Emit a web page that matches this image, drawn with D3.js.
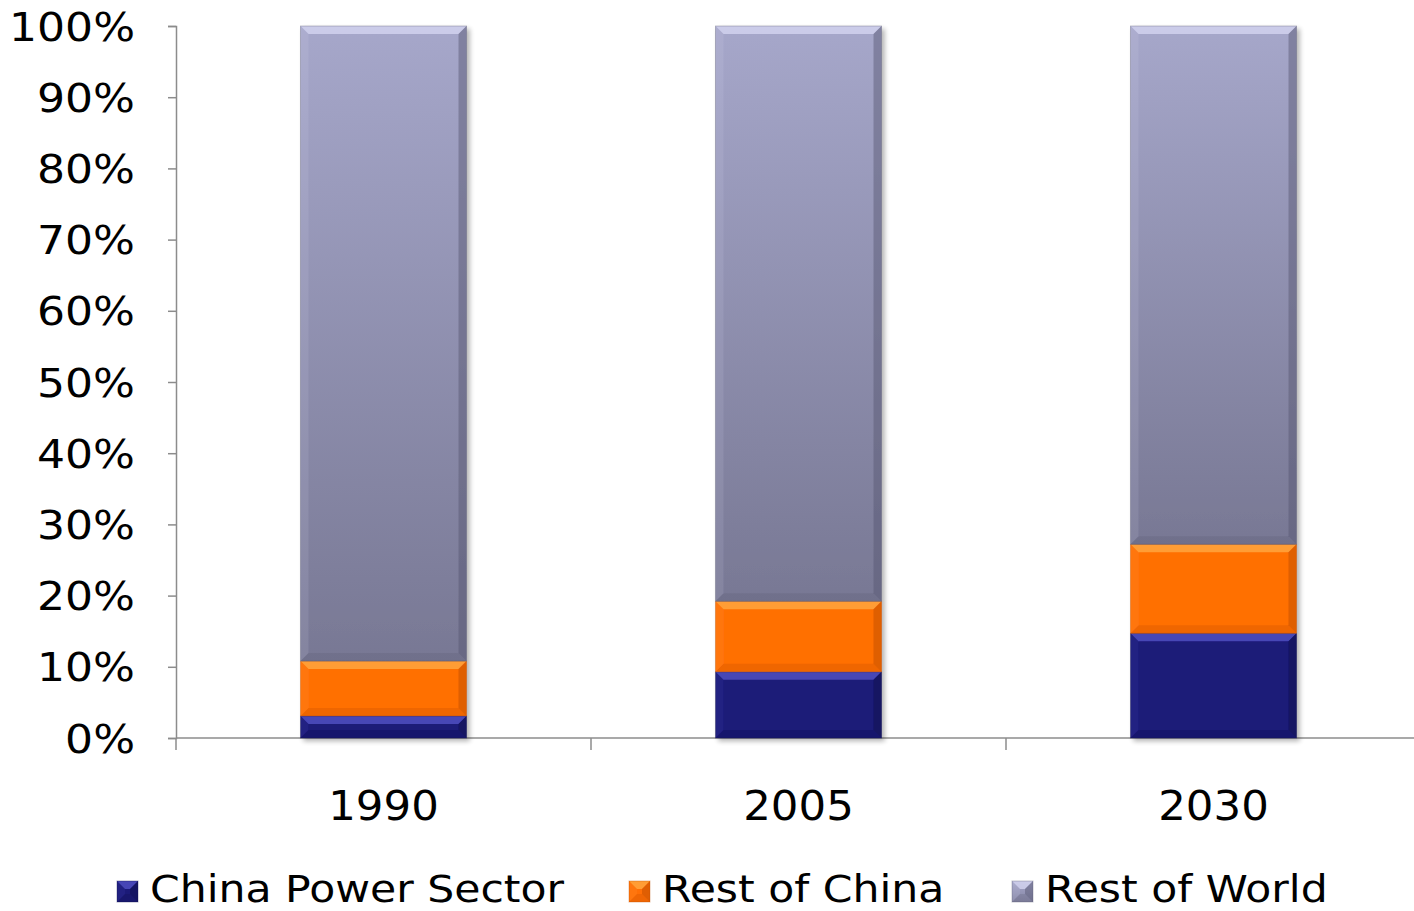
<!DOCTYPE html>
<html>
<head>
<meta charset="utf-8">
<script src="https://cdn.jsdelivr.net/npm/d3@7"></script>
<style>
  html, body { margin: 0; padding: 0; background: #fff; }
  svg { display: block; }
  text { font-family: "DejaVu Sans", Verdana, sans-serif; fill: #000; }
</style>
</head>
<body>
<svg id="chart" width="1414" height="911"></svg>
<script>
// Share of emissions by source
const years = ["1990", "2005", "2030"];
const seriesNames = ["China Power Sector", "Rest of China", "Rest of World"];
const chinaPower = [3.1, 9.3, 14.7];
const restOfChina = [7.7, 9.9, 12.5];
const restOfWorld = [89.2, 80.8, 72.8];
const yTicks = [0, 10, 20, 30, 40, 50, 60, 70, 80, 90, 100];

const seriesValues = [chinaPower, restOfChina, restOfWorld];
const rows = years.map((y, i) => {
  const r = { year: y };
  seriesNames.forEach((s, k) => r[s] = seriesValues[k][i]);
  return r;
});

const svg = d3.select("#chart");
const x = d3.scaleBand().domain(years).range([176, 176 + 3 * 415]).paddingInner(0.6).paddingOuter(0.3);
const xTickScale = d3.scaleLinear().domain([0, 3]).range([176, 176 + 3 * 415]);
const y = d3.scaleLinear().domain([0, 100]).range([738, 26]);

// widen the sans face a little so glyphs read like a Verdana setting
function widen(sel, k) {
  sel.each(function () {
    const len = this.getComputedTextLength();
    d3.select(this).attr("textLength", len * k).attr("lengthAdjust", "spacingAndGlyphs");
  });
}

const defs = svg.append("defs");
const grad = defs.append("linearGradient").attr("id", "rowGrad").attr("x1", 0).attr("y1", 0).attr("x2", 0).attr("y2", 1);
grad.append("stop").attr("offset", "0%").attr("stop-color", "#a6a7ca");
grad.append("stop").attr("offset", "100%").attr("stop-color", "#787894");
const lgGrad = defs.append("linearGradient").attr("id", "rowGradLg").attr("x1", 0).attr("y1", 0).attr("x2", 0).attr("y2", 1);
lgGrad.append("stop").attr("offset", "0%").attr("stop-color", "#a6a7ca");
lgGrad.append("stop").attr("offset", "100%").attr("stop-color", "#8585a4");
const shadow = defs.append("filter").attr("id", "shadow").attr("x", "-10%").attr("y", "-10%").attr("width", "130%").attr("height", "130%");
shadow.append("feGaussianBlur").attr("in", "SourceAlpha").attr("stdDeviation", 2.5);
shadow.append("feOffset").attr("dx", 3).attr("dy", 3).attr("result", "b");
shadow.append("feComponentTransfer").append("feFuncA").attr("type", "linear").attr("slope", 0.3);
const mg = shadow.append("feMerge");
mg.append("feMergeNode");
mg.append("feMergeNode").attr("in", "SourceGraphic");

const colors = {
  "China Power Sector": { fill: "#1b1a78", light: "#5a5ad0", dark: "#0e0d48" },
  "Rest of China": { fill: "#ff6f06", light: "#ffb04a", dark: "#b84a00" },
  "Rest of World": { fill: "url(#rowGrad)", light: "#dcdcf6", dark: "#55556e" }
};

// axes
const yAxis = d3.axisLeft(y).tickValues(yTicks).tickFormat(d => d + "%").tickSize(8).tickPadding(33);
const gy = svg.append("g").attr("transform", "translate(176,0)").call(yAxis);
gy.select(".domain").attr("stroke", "#8c8c8c").attr("stroke-width", 1.5);
gy.selectAll(".tick line").attr("stroke", "#8c8c8c").attr("stroke-width", 1.5);
gy.selectAll(".tick text").style("font-size", "39px").attr("font-family", null).attr("dy", "0.36em")
  .call(widen, 1.13);

const gx = svg.append("g");
gx.append("line").attr("x1", 176).attr("x2", 1414).attr("y1", 738).attr("y2", 738)
  .attr("stroke", "#8c8c8c").attr("stroke-width", 1.5);
gx.selectAll("line.t").data(d3.range(0, 4)).join("line").attr("class", "t")
  .attr("x1", d => xTickScale(d)).attr("x2", d => xTickScale(d))
  .attr("y1", 738).attr("y2", 750).attr("stroke", "#8c8c8c").attr("stroke-width", 1.5);
gx.selectAll("text").data(years).join("text")
  .attr("x", d => x(d) + x.bandwidth() / 2).attr("y", 820)
  .attr("text-anchor", "middle").style("font-size", "41px").text(d => d)
  .call(widen, 1.06);

// bevelled segment
function bevel(g, x0, y0, w, h, c) {
  const b = Math.min(8, h / 2, w / 2);
  g.append("rect").attr("x", x0).attr("y", y0).attr("width", w).attr("height", h).attr("fill", c.fill);
  const pts = (a) => a.map(p => p.join(",")).join(" ");
  g.append("polygon").attr("points", pts([[x0, y0], [x0 + w, y0], [x0 + w - b, y0 + b], [x0 + b, y0 + b]]))
    .attr("fill", c.light).attr("opacity", 0.7);
  g.append("polygon").attr("points", pts([[x0, y0 + h], [x0 + w, y0 + h], [x0 + w - b, y0 + h - b], [x0 + b, y0 + h - b]]))
    .attr("fill", c.dark).attr("opacity", 0.22);
  g.append("polygon").attr("points", pts([[x0, y0], [x0 + b, y0 + b], [x0 + b, y0 + h - b], [x0, y0 + h]]))
    .attr("fill", c.light).attr("opacity", 0.12);
  g.append("polygon").attr("points", pts([[x0 + w, y0], [x0 + w - b, y0 + b], [x0 + w - b, y0 + h - b], [x0 + w, y0 + h]]))
    .attr("fill", c.dark).attr("opacity", 0.45);
  g.append("rect").attr("x", x0).attr("y", y0).attr("width", w).attr("height", h)
    .attr("fill", "none").attr("stroke", c.dark).attr("stroke-opacity", 0.35).attr("stroke-width", 1);
}

const stack = d3.stack().keys(seriesNames)(rows);
const bars = svg.append("g");
years.forEach((yr, i) => {
  const g = bars.append("g").attr("filter", "url(#shadow)");
  stack.forEach(layer => {
    const d = layer[i];
    const x0 = x(yr), w = x.bandwidth();
    const y0 = y(d[1]), h = y(d[0]) - y(d[1]);
    bevel(g, x0, y0, w, h, colors[layer.key]);
  });
});

// legend
const legendX = [117, 629, 1012];
const lg = svg.append("g");
seriesNames.forEach((s, i) => {
  const c = colors[s];
  const g = lg.append("g");
  const fill = s === "Rest of World" ? "url(#rowGradLg)" : c.fill;
  bevel(g, legendX[i], 881, 21, 21, { fill: fill, light: c.light, dark: c.dark });
  g.append("text").attr("x", legendX[i] + 33).attr("y", 902).style("font-size", "37px").text(s)
    .call(widen, 1.15);
});
</script>
</body>
</html>
